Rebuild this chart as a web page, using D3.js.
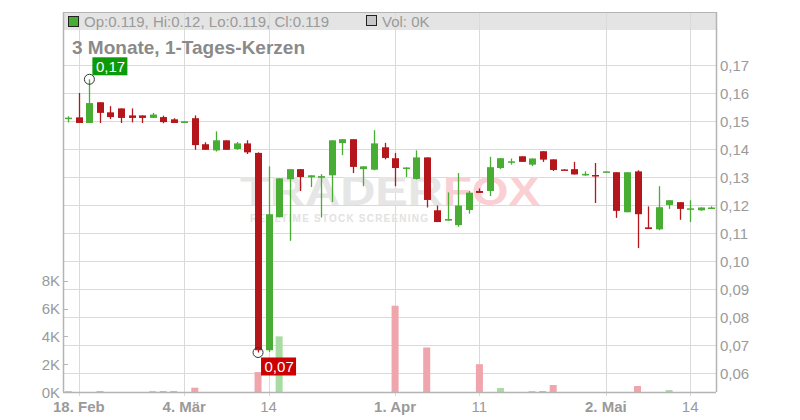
<!DOCTYPE html>
<html>
<head>
<meta charset="utf-8">
<script src="https://cdn.jsdelivr.net/npm/d3@7"></script>
<style>
  html, body { margin: 0; padding: 0; background: #fff; }
  svg { display: block; font-family: "Liberation Sans", Arial, sans-serif; }
</style>
</head>
<body>
<svg id="chart" width="800" height="420"></svg>
<script>
// ---------- DATA ----------
const dates = [
  "2025-02-17","2025-02-18","2025-02-19","2025-02-20","2025-02-21","2025-02-24","2025-02-25","2025-02-26","2025-02-27","2025-02-28",
  "2025-03-03","2025-03-04","2025-03-05","2025-03-06","2025-03-07","2025-03-10","2025-03-11","2025-03-12","2025-03-13","2025-03-14",
  "2025-03-17","2025-03-18","2025-03-19","2025-03-20","2025-03-21","2025-03-24","2025-03-25","2025-03-26","2025-03-27","2025-03-28",
  "2025-03-31","2025-04-01","2025-04-02","2025-04-03","2025-04-04","2025-04-07","2025-04-08","2025-04-09","2025-04-10","2025-04-11",
  "2025-04-14","2025-04-15","2025-04-16","2025-04-17","2025-04-22","2025-04-23","2025-04-24","2025-04-25","2025-04-28","2025-04-29",
  "2025-04-30","2025-05-02","2025-05-05","2025-05-06","2025-05-07","2025-05-08","2025-05-09","2025-05-12","2025-05-13","2025-05-14",
  "2025-05-15","2025-05-16"
];
const open = [
  0.1512,0.1514,0.1494,0.1568,0.1532,0.1546,0.1521,0.1521,0.1512,0.1515,
  0.1507,0.1494,0.1511,0.1418,0.1396,0.1432,0.1401,0.1421,0.1387,0.0682,
  0.1157,0.1293,0.1329,0.1300,0.1298,0.1307,0.1422,0.1436,0.1329,0.1327,
  0.1407,0.1368,0.1334,0.1294,0.1371,0.1182,0.1145,0.1129,0.1183,0.1251,
  0.1251,0.1333,0.1356,0.1375,0.1345,0.1393,0.1364,0.1328,0.1329,0.1311,
  0.1308,0.1320,0.1318,0.1175,0.1321,0.1121,0.1114,0.1201,0.1211,0.1188,
  0.1182,0.1191
];
const high = [
  0.1518,0.1601,0.1650,0.1568,0.1554,0.1546,0.1546,0.1521,0.1530,0.1520,
  0.1511,0.1500,0.1521,0.1425,0.1464,0.1432,0.1426,0.1432,0.1389,0.1339,
  0.1296,0.1329,0.1329,0.1307,0.1311,0.1432,0.1436,0.1436,0.1339,0.1468,
  0.1423,0.1387,0.1335,0.1396,0.1371,0.1199,0.1246,0.1315,0.1251,0.1260,
  0.1373,0.1368,0.1367,0.1375,0.1367,0.1393,0.1364,0.1328,0.1355,0.1321,
  0.1351,0.1321,0.1318,0.1318,0.1325,0.1196,0.1268,0.1218,0.1211,0.1218,
  0.1192,0.1196
];
const low = [
  0.1496,0.1494,0.1494,0.1494,0.1508,0.1494,0.1496,0.1494,0.1512,0.1493,
  0.1494,0.1494,0.1398,0.1398,0.1392,0.1398,0.1398,0.1383,0.0674,0.0676,
  0.1157,0.1073,0.1251,0.1265,0.1156,0.1212,0.1379,0.1315,0.1268,0.1325,
  0.1364,0.1268,0.1301,0.1292,0.1192,0.1140,0.1145,0.1123,0.1170,0.1244,
  0.1233,0.1329,0.1345,0.1355,0.1340,0.1355,0.1322,0.1326,0.1310,0.1305,
  0.1208,0.1319,0.1155,0.1175,0.1047,0.1115,0.1111,0.1187,0.1148,0.1140,
  0.1180,0.1188
];
const close = [
  0.1513,0.1494,0.1565,0.1530,0.1515,0.1512,0.1512,0.1512,0.1524,0.1497,
  0.1494,0.1500,0.1415,0.1398,0.1432,0.1398,0.1421,0.1389,0.0682,0.1168,
  0.1296,0.1329,0.1301,0.1307,0.1304,0.1432,0.1436,0.1337,0.1339,0.1421,
  0.1369,0.1333,0.1335,0.1371,0.1219,0.1140,0.1151,0.1199,0.1245,0.1244,
  0.1336,0.1368,0.1357,0.1355,0.1367,0.1363,0.1326,0.1326,0.1310,0.1312,
  0.1307,0.1321,0.1180,0.1318,0.1168,0.1115,0.1193,0.1218,0.1187,0.1189,
  0.1192,0.1192
];
const volume = [
  70,0,0,70,0,0,0,0,70,70,
  70,0,310,0,0,0,0,0,1430,0,
  4000,0,0,0,0,0,0,0,0,0,
  0,6200,0,0,3200,0,0,0,0,2000,
  0,290,0,0,70,70,500,0,0,0,
  0,0,0,0,430,0,0,140,0,0,
  0,0
];
const priceTicks = [0.06,0.07,0.08,0.09,0.10,0.11,0.12,0.13,0.14,0.15,0.16,0.17];
const volumeTicks = [0,2000,4000,6000,8000];
const xTickDates = ["2025-02-18","2025-03-04","2025-03-14","2025-04-01","2025-04-11","2025-05-02","2025-05-14"];
const xTickLabels = ["18. Feb","4. Mär","14","1. Apr","11","2. Mai","14"];
const xTickBold = [true,true,false,true,false,true,false];
const legendText = "Op:0.119, Hi:0.12, Lo:0.119, Cl:0.119";
const volLegendText = "Vol: 0K";
const titleText = "3 Monate, 1-Tages-Kerzen";
const maxLabel = "0,17";
const minLabel = "0,07";

// ---------- LAYOUT ----------
const L = 63, R = 716, T = 12, B = 392;
const RED = "#b5161b", GREEN = "#47ad33";
const VRED = "#f0a4ac", VGREEN = "#a9dca2";
const GRID = "#dadada", AXIS = "#b4b4b4", TXT = "#9a9a9a";

const svg = d3.select("#chart");
const x = d3.scalePoint().domain(dates).range([68.3, 711.3]);
const y = d3.scaleLinear().domain([0.06, 0.17]).range([373.2, 65.3]);
const yv = d3.scaleLinear().domain([0, 8000]).range([B, 280.7]);
const bw = 7;

// header band
svg.append("rect").attr("x", L).attr("y", T).attr("width", R - L).attr("height", 18).attr("fill", "#e4e4e4");

// gridlines
svg.append("g").selectAll("line").data(priceTicks).join("line")
  .attr("x1", L).attr("x2", R).attr("y1", d => Math.round(y(d)) + 0.5).attr("y2", d => Math.round(y(d)) + 0.5)
  .attr("stroke", GRID).attr("stroke-width", 1);
svg.append("g").selectAll("line").data(xTickDates).join("line")
  .attr("x1", d => Math.round(x(d)) + 0.5).attr("x2", d => Math.round(x(d)) + 0.5)
  .attr("y1", T).attr("y2", B + 4)
  .attr("stroke", GRID).attr("stroke-width", 1);

// watermark
const wm = svg.append("g").attr("font-weight", "bold");
wm.append("text").attr("x", 240).attr("y", 205).attr("font-size", 40)
  .attr("textLength", 203).attr("lengthAdjust", "spacingAndGlyphs")
  .attr("fill", "#e6e6e6").text("TRADER");
wm.append("text").attr("x", 443).attr("y", 205).attr("font-size", 40)
  .attr("textLength", 97).attr("lengthAdjust", "spacingAndGlyphs")
  .attr("fill", "#fad0d4").text("FOX");
wm.append("text").attr("x", 250).attr("y", 222).attr("font-size", 10)
  .attr("textLength", 178).attr("lengthAdjust", "spacing")
  .attr("fill", "#e2e2e2").text("REALTIME STOCK SCREENING");

// volume bars
const idx = d3.range(dates.length);
svg.append("g").selectAll("rect").data(idx.filter(i => volume[i] > 0)).join("rect")
  .attr("x", i => x(dates[i]) - bw / 2)
  .attr("y", i => yv(volume[i]))
  .attr("width", bw)
  .attr("height", i => Math.max(1, B - yv(volume[i])))
  .attr("fill", i => close[i] >= open[i] ? VGREEN : VRED);

// candles
const cg = svg.append("g");
cg.selectAll("line").data(idx).join("line")
  .attr("x1", i => Math.round(x(dates[i])) + 0.5).attr("x2", i => Math.round(x(dates[i])) + 0.5)
  .attr("y1", i => y(high[i])).attr("y2", i => y(low[i]))
  .attr("stroke", i => close[i] >= open[i] ? GREEN : RED).attr("stroke-width", 1.3);
cg.selectAll("rect").data(idx).join("rect")
  .attr("x", i => Math.round(x(dates[i])) + 0.5 - bw / 2)
  .attr("y", i => Math.min(y(open[i]), y(close[i])))
  .attr("width", bw)
  .attr("height", i => Math.max(1.5, Math.abs(y(open[i]) - y(close[i]))))
  .attr("fill", i => close[i] >= open[i] ? GREEN : RED);

// frame / axes
svg.append("line").attr("x1", L).attr("x2", R).attr("y1", T + 0.5).attr("y2", T + 0.5).attr("stroke", AXIS);
svg.append("line").attr("x1", L + 0.5).attr("x2", L + 0.5).attr("y1", T).attr("y2", B).attr("stroke", AXIS).attr("stroke-width", 1.5);
svg.append("line").attr("x1", R + 0.5).attr("x2", R + 0.5).attr("y1", T).attr("y2", B).attr("stroke", AXIS).attr("stroke-width", 1.5);
svg.append("line").attr("x1", L).attr("x2", R).attr("y1", B + 0.5).attr("y2", B + 0.5).attr("stroke", AXIS).attr("stroke-width", 1.5);

// right price axis labels
const fmt = d => d.toFixed(2).replace(".", ",");
svg.append("g").selectAll("text").data(priceTicks).join("text")
  .attr("x", 720).attr("y", d => y(d) + 5.5)
  .attr("font-size", 15).attr("fill", TXT).text(fmt);

// left volume axis
svg.append("g").selectAll("line").data(volumeTicks).join("line")
  .attr("x1", L).attr("x2", L + 5).attr("y1", d => Math.round(yv(d)) + 0.5).attr("y2", d => Math.round(yv(d)) + 0.5)
  .attr("stroke", AXIS);
svg.append("g").selectAll("text").data(volumeTicks).join("text")
  .attr("x", 60).attr("y", d => yv(d) + 5.5).attr("text-anchor", "end")
  .attr("font-size", 15).attr("fill", TXT).text(d => (d / 1000) + "K");

// x labels
svg.append("g").selectAll("text").data(xTickDates).join("text")
  .attr("x", d => x(d)).attr("y", 412).attr("text-anchor", "middle")
  .attr("font-size", 15).attr("fill", TXT)
  .attr("font-weight", (d, i) => xTickBold[i] ? "bold" : "normal")
  .text((d, i) => xTickLabels[i]);

// legend
svg.append("rect").attr("x", 68.5).attr("y", 16.5).attr("width", 10).attr("height", 10)
  .attr("fill", GREEN).attr("stroke", "#222").attr("stroke-width", 1);
svg.append("text").attr("x", 84).attr("y", 26.5).attr("font-size", 15).attr("fill", TXT).text(legendText);
svg.append("rect").attr("x", 366.5).attr("y", 15.5).attr("width", 10).attr("height", 10)
  .attr("fill", "#c6c6c6").attr("stroke", "#222").attr("stroke-width", 1);
svg.append("text").attr("x", 382).attr("y", 26.5).attr("font-size", 15).attr("fill", TXT).text(volLegendText);

// title
svg.append("text").attr("x", 72).attr("y", 54).attr("font-size", 19).attr("font-weight", "bold")
  .attr("fill", "#8a8a8a").text(titleText);

// annotations (max & min)
const iMax = d3.maxIndex(high), iMin = d3.minIndex(low);
const mx = x(dates[iMax]), my = y(high[iMax]);
const nx = x(dates[iMin]), ny = y(low[iMin]);
svg.append("circle").attr("cx", mx).attr("cy", my).attr("r", 5).attr("fill", "none").attr("stroke", "#333").attr("stroke-width", 1);
svg.append("rect").attr("x", mx + 3).attr("y", my - 22).attr("width", 35).attr("height", 18).attr("fill", "#0a9a0a");
svg.append("text").attr("x", mx + 6.5).attr("y", my - 7.5).attr("font-size", 15).attr("fill", "#fff").text(maxLabel);
svg.append("circle").attr("cx", nx).attr("cy", ny).attr("r", 5).attr("fill", "none").attr("stroke", "#333").attr("stroke-width", 1);
svg.append("rect").attr("x", nx + 3).attr("y", ny + 5).attr("width", 35).attr("height", 18).attr("fill", "#cc0000");
svg.append("text").attr("x", nx + 6.5).attr("y", ny + 19.5).attr("font-size", 15).attr("fill", "#fff").text(minLabel);
</script>
</body>
</html>
